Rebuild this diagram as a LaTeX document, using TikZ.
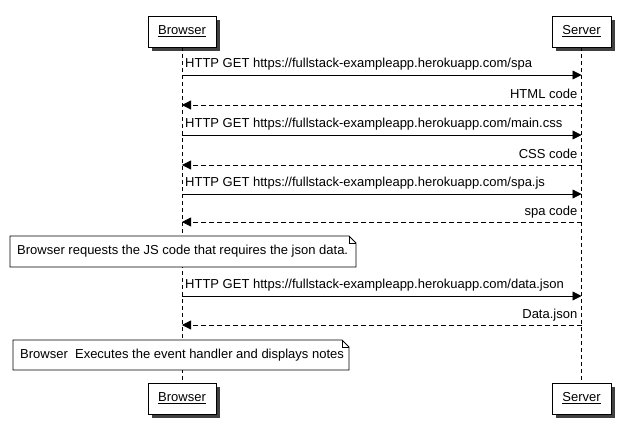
\documentclass[tikz,border=0pt]{standalone}
\usepackage{fontspec}
\setmainfont{Liberation Sans}
\usetikzlibrary{arrows.meta,calc,shadows}
\begin{document}
\begin{tikzpicture}[x=1pt,y=-1pt,
  font=\fontsize{13}{15}\selectfont,
  part/.style={draw=black, fill=white, line width=0.8pt, minimum height=31pt, inner sep=0pt,
    drop shadow={shadow xshift=4pt, shadow yshift=-4pt, fill=black!75, opacity=1}},
  life/.style={draw=black, line width=0.8pt, dash pattern=on 4pt off 3pt},
  req/.style={draw=black, line width=0.8pt, -{Triangle[length=9pt,width=9pt]}},
  resp/.style={draw=black, line width=0.8pt, dash pattern=on 5pt off 3pt, -{Triangle[length=9pt,width=9pt]}},
  lbl/.style={inner sep=0pt},
  notetext/.style={inner sep=0pt, anchor=west},
  noteline/.style={draw=black, line width=0.8pt, fill=white}
]
\useasboundingbox (0,0) rectangle (625,438);

% participants
\node[part, minimum width=68pt] (bt) at (182,31.5) {\underline{Browser}};
\node[part, minimum width=59pt] (st) at (581.5,31.5) {\underline{Server}};
\node[part, minimum width=68pt] (bb) at (182,398.5) {\underline{Browser}};
\node[part, minimum width=59pt] (sb) at (581.5,398.5) {\underline{Server}};

% lifelines
\draw[life] (bt.south) -- (bb.north);
\draw[life] (st.south) -- (sb.north);

% lifeline coordinates
\foreach \i/\y in {1/75,2/105,3/135,4/165,5/194,6/222,7/296,8/325}{
  \coordinate (b\i) at (bt.south |- 0,\y);
  \coordinate (s\i) at (st.south |- 0,\y);
}

% messages
\draw[req] (b1) -- (s1);
\node[lbl, anchor=base west] (m1) at ($(b1)+(3,-7)$) {HTTP GET https://fullstack-exampleapp.herokuapp.com/spa};
\draw[resp] (s2) -- (b2);
\node[lbl, anchor=base east] (m2) at ($(s2)+(-4,-6)$) {HTML code};
\draw[req] (b3) -- (s3);
\node[lbl, anchor=base west] (m3) at ($(b3)+(3,-7)$) {HTTP GET https://fullstack-exampleapp.herokuapp.com/main.css};
\draw[resp] (s4) -- (b4);
\node[lbl, anchor=base east] (m4) at ($(s4)+(-4,-6)$) {CSS code};
\draw[req] (b5) -- (s5);
\node[lbl, anchor=base west] (m5) at ($(b5)+(3,-7)$) {HTTP GET https://fullstack-exampleapp.herokuapp.com/spa.js};
\draw[resp] (s6) -- (b6);
\node[lbl, anchor=base east] (m6) at ($(s6)+(-4,-6)$) {spa code};
\draw[req] (b7) -- (s7);
\node[lbl, anchor=base west] (m7) at ($(b7)+(3,-7)$) {HTTP GET https://fullstack-exampleapp.herokuapp.com/data.json};
\draw[resp] (s8) -- (b8);
\node[lbl, anchor=base east] (m8) at ($(s8)+(-4,-6)$) {Data.json};

% note 1
\coordinate (n1nw) at (10,236);
\coordinate (n1se) at (356,267);
\draw[noteline] (n1nw) -- (349,236) -- (356,243) -- (n1se) -- (10,267) -- cycle;
\draw[line width=0.8pt] (349,236) -- (349,243) -- (356,243);
\node[notetext] (n1) at (17,251.5) {Browser requests the JS code that requires the json data.};

% note 2
\coordinate (n2nw) at (13,340);
\coordinate (n2se) at (349,370);
\draw[noteline] (n2nw) -- (342,340) -- (349,347) -- (n2se) -- (13,370) -- cycle;
\draw[line width=0.8pt] (342,340) -- (342,347) -- (349,347);
\node[notetext] (n2) at (20,355) {Browser\ \ Executes the event handler and displays notes};
\end{tikzpicture}
\end{document}
